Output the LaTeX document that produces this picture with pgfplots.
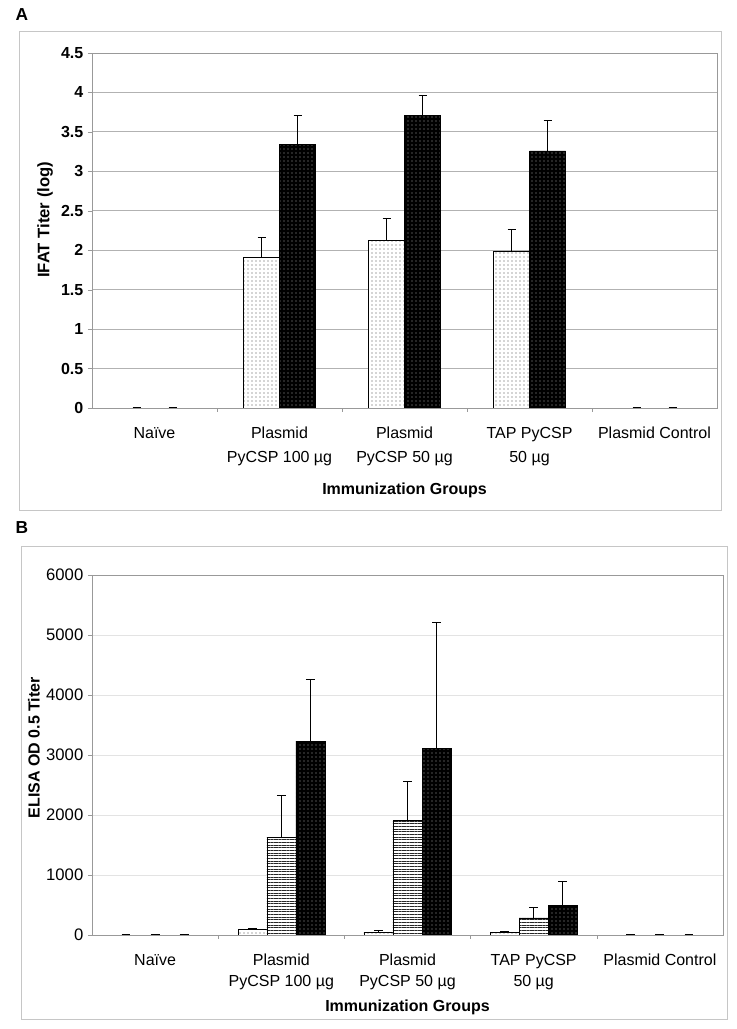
\documentclass[border=0pt]{standalone}
\usepackage{fontspec}
\setmainfont{Liberation Sans}
\usepackage{pgfplots}
\pgfplotsset{compat=1.18}
\usetikzlibrary{patterns.meta}

% bar fills
\pgfplotsset{
  litefill/.style={draw=black, fill=white, postaction={pattern={Dots[distance=3pt,radius=0.4pt]}, pattern color=black!70}},
  linefill/.style={draw=black, fill=white, postaction={pattern={Lines[angle=0,distance=2pt,line width=0.55pt]}, pattern color=black!85}},
  darkfill/.style={draw=black, fill=black, postaction={pattern={Dots[distance=3pt,radius=0.4pt]}, pattern color=gray!70}},
  errs/.style={error bars/.cd, y dir=plus, y explicit, error mark=-,
    error bar style={black, line width=0.75pt},
    error mark options={black, rotate=90, mark size=#1, line width=0.75pt}},
  % move a series sideways inside its category (in axis units)
  off/.style={x filter/.expression={x+#1}},
  bars/.style={ybar, bar width=#1, bar shift=0pt},
  zerocap/.style={ybar, bar width=1pt, bar shift=0pt, draw=none, fill=none, forget plot},
  catax/.style={
    scale only axis,
    xmin=-0.5, xmax=4.5, ymin=0,
    xtick={0,...,4},
    xticklabels={Naïve, {Plasmid\\PyCSP 100 µg}, {Plasmid\\PyCSP 50 µg}, {TAP PyCSP\\50 µg}, Plasmid Control},
    major x tick style={draw=none},
    extra x ticks={0.5,1.5,2.5,3.5},
    extra x tick labels={},
    extra x tick style={major x tick style={draw=gray!80}, grid=none},
    tick align=outside, major tick length=3pt,
    xtick pos=bottom, ytick pos=left,
    ytick style={gray!80},
    axis line style={gray!80},
    ymajorgrids,
    scaled y ticks=false,
    /pgf/number format/assume math mode=true,
    /pgf/number format/set thousands separator={},
    xlabel={Immunization Groups},
  },
}

\begin{document}
\begin{tikzpicture}
\path (0,0) rectangle (552.75pt,771.75pt);

% panel frames and letters
\draw[gray!45, line width=0.7pt] (14.25pt,389.25pt) rectangle (540.75pt,748.5pt);
\draw[gray!45, line width=0.7pt] (15.75pt,7.5pt) rectangle (545.25pt,362.25pt);
\node[font=\bfseries\fontsize{13}{15}\selectfont] at (16.5pt,760.5pt) {A};
\node[font=\bfseries\fontsize{13}{15}\selectfont] at (16.5pt,375.75pt) {B};

% ---- panel A ----
\begin{axis}[catax,
  at={(69pt,465.75pt)}, anchor=south west,
  width=468.75pt, height=266.25pt,
  ymax=4.5, ytick={0,0.5,...,4.5},
  grid style={gray!60, line width=0.6pt},
  yticklabel style={font=\bfseries\fontsize{12}{14}\selectfont},
  xticklabel style={align=center, anchor=north, yshift=-8pt, font=\fontsize{12}{18}\selectfont},
  ylabel={IFAT Titer (log)},
  ylabel style={at={(axis description cs:-0.075,0.53)}, anchor=center, font=\bfseries\fontsize{12.5}{14}\selectfont},
  xlabel style={at={(axis description cs:0.5,-0.231)}, anchor=center, font=\bfseries\fontsize{12}{14}\selectfont},
]
\addplot[bars=27pt, off=-0.144, litefill, errs=3pt] coordinates {
  (1,1.91) +- (0,0.25)
  (2,2.13) +- (0,0.27)
  (3,1.99) +- (0,0.27)
};
\addplot[bars=27pt, off=0.144, darkfill, errs=3pt] coordinates {
  (1,3.34) +- (0,0.37)
  (2,3.71) +- (0,0.25)
  (3,3.26) +- (0,0.39)
};
% zero-valued groups: only the error caps show
\addplot[zerocap, off=-0.144, errs=3pt] coordinates {(0,0) +- (0,0) (4,0) +- (0,0)};
\addplot[zerocap, off=0.144, errs=3pt] coordinates {(0,0) +- (0,0) (4,0) +- (0,0)};
\end{axis}

% ---- panel B ----
\begin{axis}[catax,
  at={(69pt,70.5pt)}, anchor=south west,
  width=473.25pt, height=270pt,
  ymax=6000, ytick={0,1000,...,6000},
  grid style={gray!22, line width=0.6pt},
  yticklabel style={font=\fontsize{12.5}{14}\selectfont},
  xticklabel style={align=center, anchor=north, yshift=-8pt, font=\fontsize{12}{15.75}\selectfont},
  ylabel={ELISA OD 0.5 Titer},
  ylabel style={at={(axis description cs:-0.092,0.52)}, anchor=center, font=\bfseries\fontsize{12}{14}\selectfont},
  xlabel style={at={(axis description cs:0.5,-0.2)}, anchor=center, font=\bfseries\fontsize{12}{14}\selectfont},
]
\addplot[bars=21.75pt, off=-0.23, litefill, errs=3.3pt] coordinates {
  (1,94) +- (0,20)
  (2,44) +- (0,28)
  (3,44) +- (0,22)
};
\addplot[bars=21.75pt, off=0, linefill, errs=3.3pt] coordinates {
  (1,1633) +- (0,690)
  (2,1911) +- (0,650)
  (3,285) +- (0,170)
};
\addplot[bars=21.75pt, off=0.23, darkfill, errs=3.3pt] coordinates {
  (1,3233) +- (0,1020)
  (2,3111) +- (0,2090)
  (3,498) +- (0,393)
};
\addplot[zerocap, off=-0.23, errs=3.3pt] coordinates {(0,0) +- (0,0) (4,0) +- (0,0)};
\addplot[zerocap, off=0, errs=3.3pt] coordinates {(0,0) +- (0,0) (4,0) +- (0,0)};
\addplot[zerocap, off=0.23, errs=3.3pt] coordinates {(0,0) +- (0,0) (4,0) +- (0,0)};
\end{axis}

\pgfresetboundingbox
\path (0,0) rectangle (552.75pt,771.75pt);
\end{tikzpicture}
\end{document}
